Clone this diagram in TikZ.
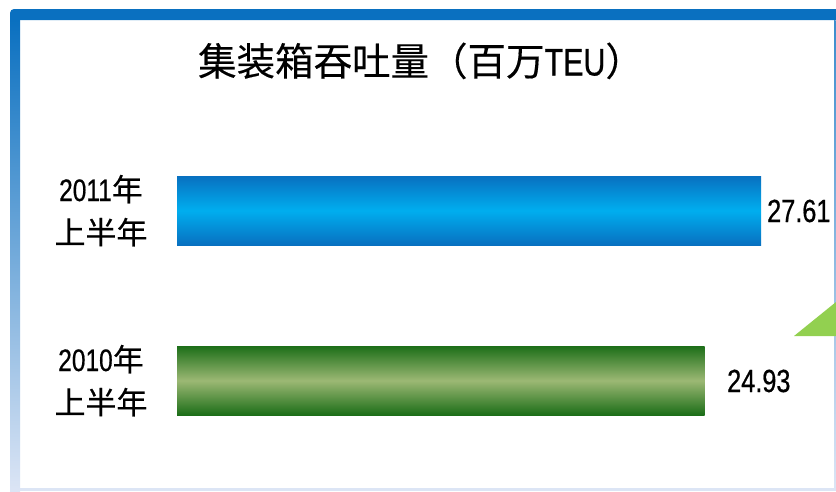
\documentclass[tikz,border=0pt]{standalone}
\usepackage{fontspec}
\setmainfont[FakeStretch=0.79,FakeBold=0.6]{Liberation Sans}
\newfontfamily\cjk[FakeBold=0.3]{Noto Sans CJK SC}
\newfontfamily\lat[FakeStretch=0.79,FakeBold=0.6]{Liberation Sans}
\definecolor{frameblue}{HTML}{0A70C0}
\definecolor{framemid}{HTML}{B4C9EA}
\definecolor{framelav}{HTML}{DCE5F5}
\definecolor{barblueedge}{HTML}{0870C0}
\definecolor{barbluemid}{HTML}{00AEEF}
\definecolor{bargreenedge}{HTML}{1C6E18}
\definecolor{bargreenmid}{HTML}{9CB874}
\definecolor{tri}{HTML}{92D050}
\tikzset{
  lbl/.style={inner sep=0pt, anchor=base, font=\fontsize{31}{31}\selectfont},
  val/.style={inner sep=0pt, anchor=base west, font=\lat\fontsize{32}{32}\selectfont},
  title/.style={inner sep=0pt, anchor=base, font=\fontsize{38.5}{38.5}\selectfont},
  bluebar/.style={top color=barblueedge, bottom color=barblueedge, middle color=barbluemid},
  greenbar/.style={top color=bargreenedge, bottom color=bargreenedge, middle color=bargreenmid}
}
\begin{document}
\begin{tikzpicture}[x=1pt,y=-1pt]
\useasboundingbox (0,0) rectangle (836,491);
\fill[white] (0,0) rectangle (836,491);
% frame
\shade[top color=frameblue, middle color=framemid, bottom color=framelav] (10,20) rectangle (20,491);
\fill[frameblue] (10,21) {[rounded corners=4pt] -- (10,9) -- (400,9)} -- (836,9) -- (836,20) -- (10,20) -- cycle;
\fill[framelav] (20,488) rectangle (836,490.5);
\shade[top color=frameblue!80, bottom color=framelav] (834.2,20) rectangle (835.6,490.5);
\fill[tri] (794,336) -- (836,336) -- (836,302) -- cycle;
% title
\node[title] (ttl) at (421,75.5) {{\cjk 集装箱吞吐量（百万}{\lat TEU}{\cjk ）}};
% bars
\shade[bluebar] (177,176) rectangle (761,245);
\shade[greenbar] (177,346) rectangle (704.5,415);
% category labels
\node[lbl] (c1a) at (101,201) {{\lat 2011}{\cjk 年}};
\node[lbl] (c1b) at (101,244) {\cjk 上半年};
\node[lbl] (c2a) at (101,371) {{\lat 2010}{\cjk 年}};
\node[lbl] (c2b) at (101,414) {\cjk 上半年};
% values
\node[val] (v1) at (767,222) {27.61};
\node[val] (v2) at (727,392) {24.93};
\end{tikzpicture}
\end{document}
